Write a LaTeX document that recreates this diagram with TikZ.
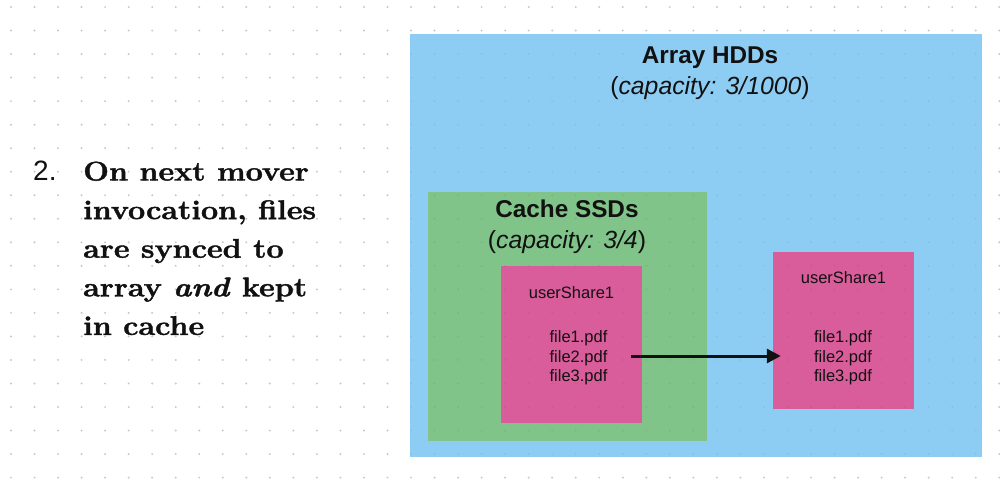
\documentclass[tikz,border=0pt]{standalone}
\usepackage{fontspec}
\setsansfont{Liberation Sans}
\newfontfamily\stepfont{Latin Modern Roman}[FakeStretch=1.13, BoldFeatures={FakeBold=1.6}, BoldItalicFeatures={FakeBold=1.6}]
\usetikzlibrary{arrows.meta,calc}
\definecolor{hddblue}{RGB}{142,205,243}
\definecolor{ssdgreen}{RGB}{128,196,137}
\definecolor{sharepink}{RGB}{217,93,155}
\definecolor{dotgray}{RGB}{200,200,200}
\definecolor{ink}{RGB}{17,17,17}
\begin{document}
\begin{tikzpicture}[x=1pt,y=-1pt,
  box/.style={rectangle, inner sep=0pt, draw=none},
  titletext/.style={inner sep=0pt, anchor=base, text=ink, font=\sffamily\bfseries\fontsize{24.3}{28}\selectfont},
  captext/.style={inner sep=0pt, anchor=base, text=ink, font=\sffamily\fontsize{24.8}{28}\selectfont},
  sharetext/.style={inner sep=0pt, anchor=base, text=ink, font=\sffamily\fontsize{16.5}{19.5}\selectfont},
  filetext/.style={inner sep=0pt, align=center, text=ink, font=\sffamily\fontsize{16.5}{19.5}\selectfont},
  steptext/.style={inner sep=0pt, anchor=base west, text=ink, font=\stepfont\bfseries\fontsize{27}{38}\selectfont},
  numtext/.style={inner sep=0pt, anchor=base west, text=ink, font=\sffamily\fontsize{28}{30}\selectfont},
  flow/.style={draw=ink, line width=3pt, -{Triangle[length=14pt,width=14pt]}}]
\useasboundingbox (0,0) rectangle (1000,480);
% dot grid
\foreach \i in {0,...,42}{
  \foreach \j in {0,...,20}{
    \fill[dotgray] (11+23.53*\i, 7+23.53*\j) circle[radius=1.1pt];
  }
}
% boxes
\node[box, fill=hddblue, minimum width=572pt, minimum height=423pt] (hdd) at (696,245.5) {};
\node[box, fill=ssdgreen, minimum width=279pt, minimum height=249pt] (ssd) at (567.5,316.5) {};
\node[box, fill=sharepink, minimum width=141pt, minimum height=157pt] (lp) at (571.5,344.5) {};
\node[box, fill=sharepink, minimum width=141pt, minimum height=157pt] (rp) at (843.5,330.5) {};
% faint dots showing through boxes
\begin{scope}
  \clip (410,34) rectangle (982,457);
  \foreach \i in {17,...,41}{
    \foreach \j in {1,...,19}{
      \fill[black, opacity=0.06] (11+23.53*\i, 7+23.53*\j) circle[radius=1.1pt];
    }
  }
\end{scope}
% titles
\node[titletext] (hddtitle) at (710,63) {Array HDDs};
\node[captext] (hddcap) at (710,94) {(\textit{capacity: 3/1000})};
\node[titletext] (ssdtitle) at (567,217) {Cache SSDs};
\node[captext] (ssdcap) at (567,248) {(\textit{capacity: 3/4})};
% share contents
\node[sharetext] (lname) at (571.5,298) {userShare1};
\node[sharetext] (rname) at (843.5,283) {userShare1};
\node[filetext] (lfiles) at (578.5,358) {file1.pdf\\file2.pdf\\file3.pdf};
\node[filetext] (rfiles) at (843,358) {file1.pdf\\file2.pdf\\file3.pdf};
% arrow
\draw[flow] ($(lp.east |- lfiles.center)+(-11,-2)$) -- ($(rp.west |- lfiles.center)+(8,-2)$);
% left text
\node[numtext] (num) at (33,180.5) {2.};
\node[steptext] (s1) at (83,180.5) {On next mover};
\node[steptext] (s2) at (83,219.1) {invocation, files};
\node[steptext] (s3) at (83,257.7) {are synced to};
\node[steptext] (s4) at (83,296.3) {array \textit{and} kept};
\node[steptext] (s5) at (83,334.9) {in cache};
\end{tikzpicture}
\end{document}
